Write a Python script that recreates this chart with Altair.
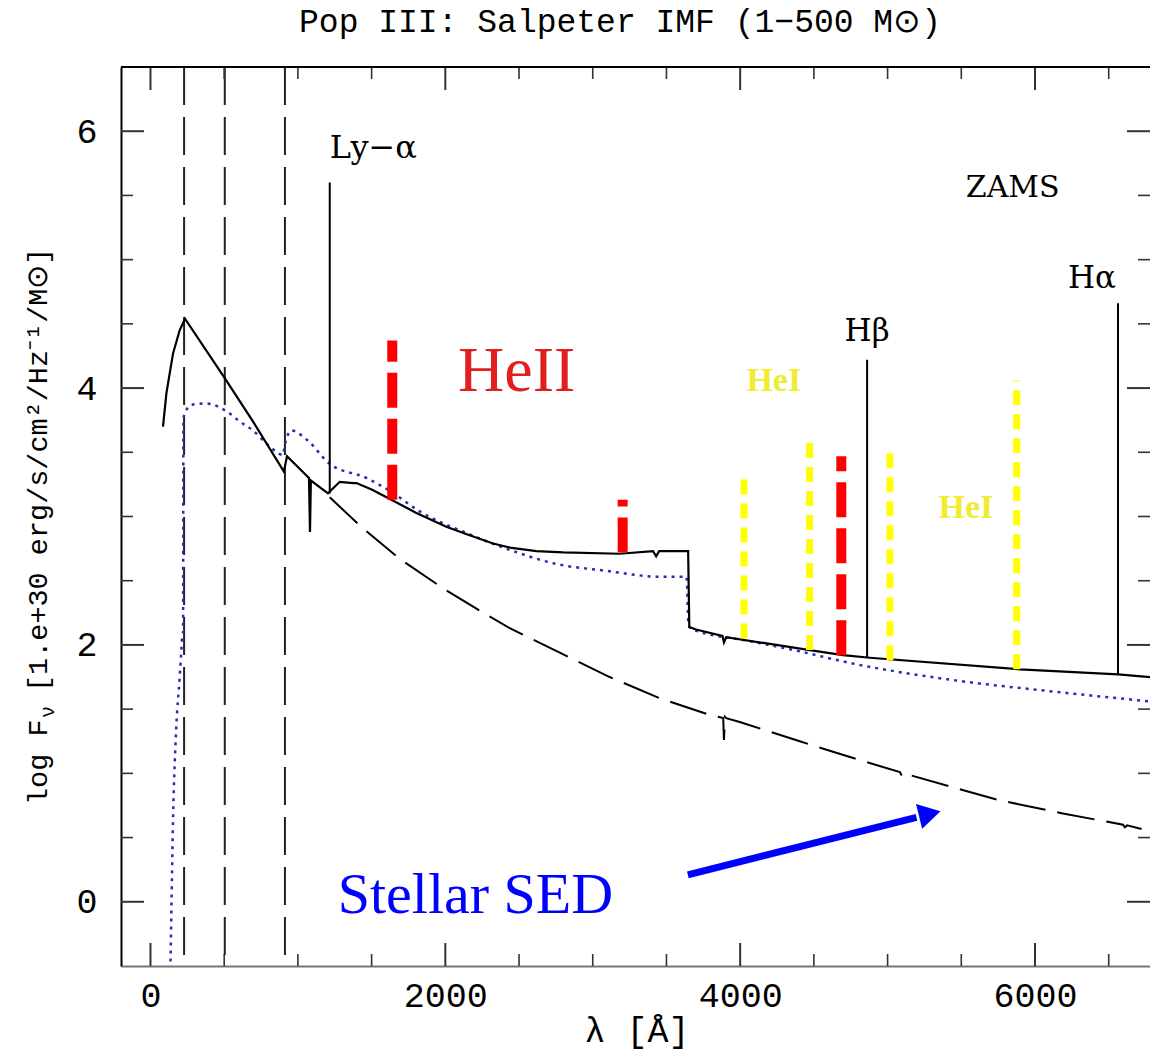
import altair as alt
import pandas as pd

# ---------------- data ----------------
# total (stellar + nebular) ZAMS spectrum, solid black
tot_x = [85, 108, 153, 198, 234, 497, 695, 905, 926, 1075, 1082, 1088, 1204, 1284, 1374,
         1397, 1500, 1634, 1800, 2007, 2150, 2324, 2450, 2618, 2800, 3183, 3409, 3430, 3450,
         3647, 3655, 3700, 3880, 3890, 3905, 4472, 4698, 4879, 5897, 6564, 6780]
tot_y = [3.70, 3.96, 4.27, 4.45, 4.54, 4.09, 3.74, 3.35, 3.47, 3.30, 2.88, 3.28, 3.18, 3.27, 3.26,
         3.26, 3.21, 3.13, 3.03, 2.92, 2.86, 2.79, 2.755, 2.73, 2.72, 2.71, 2.73, 2.69, 2.73,
         2.73, 2.14, 2.12, 2.07, 2.02, 2.06, 1.96, 1.92, 1.90, 1.81, 1.77, 1.75]

# pure stellar SED, long-dashed black
st_x = [1216, 1419, 1691, 1985, 2200, 2437, 2776, 3115, 3455, 3794, 3885, 3890, 3897, 3905, 3997,
        4404, 4750, 5083, 5098, 5110, 5430, 5761, 6180, 6597, 6610, 6625, 6780]
st_y = [3.15, 2.93, 2.67, 2.44, 2.29, 2.13, 1.94, 1.75, 1.585, 1.455, 1.43, 1.26, 1.44, 1.43, 1.40,
        1.25, 1.125, 1.01, 0.98, 1.00, 0.895, 0.79, 0.69, 0.60, 0.58, 0.595, 0.55]

# blue dotted curve
neb_x = [128, 135, 153, 175, 198, 210, 216, 221, 223, 240, 277, 379, 515, 605, 695, 786, 900, 910,
         956, 1058, 1216, 1465, 1623, 1826, 2166, 2437, 2754, 3070, 3477, 3636, 3650, 3680, 4065,
         4404, 4744, 5421, 6100, 6780]
neb_y = [-0.9, -0.51, 0.64, 1.36, 1.75, 1.97, 2.08, 2.10, 3.76, 3.82, 3.87, 3.88, 3.82, 3.74, 3.67,
         3.57, 3.48, 3.55, 3.67, 3.60, 3.41, 3.30, 3.20, 3.04, 2.86, 2.74, 2.63, 2.58, 2.53, 2.53,
         2.15, 2.12, 2.03, 1.95, 1.86, 1.73, 1.64, 1.56]

# ionisation edges (dashed verticals)
edge_x = [228, 504, 912]

# hydrogen emission lines
h_x = [1216, 4861, 6563]
h_lo = [3.18, 1.90, 1.77]
h_hi = [5.60, 4.22, 4.66]

# HeII lines (red)
heii_x = [1640, 3203, 4686]
heii_lo = [3.13, 2.72, 1.92]
heii_hi = [4.37, 3.13, 3.47]

# HeI lines (yellow)
hei_x = [4026, 4471, 5016, 5876]
hei_lo = [2.05, 1.96, 1.88, 1.81]
hei_hi = [3.32, 3.64, 3.50, 4.06]

# arrow pointing at the stellar SED
arrow_x = [3645, 5196]
arrow_y = [0.21, 0.658]
arrow_tip = [5262, 0.678]

# axis ticks
x_major = [0, 2000, 4000, 6000]
x_minor = [500, 1000, 1500, 2500, 3000, 3500, 4500, 5000, 5500, 6500]
y_major = [0, 2, 4, 6]
y_minor = [0.5, 1, 1.5, 2.5, 3, 3.5, 4.5, 5, 5.5]

# ---------------- layout ----------------
W, H = 1029, 899
MONO = "Liberation Mono"
SERIF = "Liberation Serif"
DSERIF = "DejaVu Serif"

xs = alt.Scale(domain=[-200, 6780], nice=False, zero=False)
ys = alt.Scale(domain=[-0.5, 6.5], nice=False, zero=False)
xa = alt.Axis(values=x_major, format="d", ticks=False, grid=False, domain=True,
              domainColor="#777777", domainWidth=2, labelFont=MONO, labelFontSize=35,
              labelColor="black", labelPadding=12, labelFlush=False)
ya = alt.Axis(values=y_major, format="d", ticks=False, grid=False, domain=True,
              domainColor="black", domainWidth=2, labelFont=MONO, labelFontSize=35,
              labelColor="black", labelPadding=24)


def X(f):
    return alt.X(f, type="quantitative", scale=xs, axis=xa, title=None)


def Y(f):
    return alt.Y(f, type="quantitative", scale=ys, axis=ya, title=None)


def curve(xv, yv):
    return pd.DataFrame({"x": xv, "y": yv, "i": list(range(len(xv)))})


layers = []

# edges
layers.append(
    alt.Chart(pd.DataFrame({"x": edge_x})).mark_rule(color="#222222", strokeWidth=2, strokeDash=[38, 12])
    .encode(x=X("x"), y=alt.value(0), y2=alt.value(H))
)

# blue dotted
layers.append(
    alt.Chart(curve(neb_x, neb_y)).mark_line(color="#2530b0", strokeWidth=2.5, strokeDash=[3, 5],
                                             clip=True, interpolate="monotone")
    .encode(x=X("x"), y=Y("y"), order="i:Q")
)
# stellar dashed
layers.append(
    alt.Chart(curve(st_x, st_y)).mark_line(color="black", strokeWidth=2, strokeDash=[38, 12])
    .encode(x=X("x"), y=Y("y"), order="i:Q")
)
# total solid
layers.append(
    alt.Chart(curve(tot_x, tot_y)).mark_line(color="black", strokeWidth=2.2)
    .encode(x=X("x"), y=Y("y"), order="i:Q")
)
# H lines
layers.append(
    alt.Chart(pd.DataFrame({"x": h_x, "lo": h_lo, "hi": h_hi})).mark_rule(color="black", strokeWidth=2)
    .encode(x=X("x"), y=Y("lo"), y2="hi:Q")
)
# HeII
layers.append(
    alt.Chart(pd.DataFrame({"x": heii_x, "lo": heii_lo, "hi": heii_hi}))
    .mark_rule(color="#ff0000", strokeWidth=10, strokeDash=[35, 11])
    .encode(x=X("x"), y=Y("lo"), y2="hi:Q")
)
# HeI
layers.append(
    alt.Chart(pd.DataFrame({"x": hei_x, "lo": hei_lo, "hi": hei_hi}))
    .mark_rule(color="#ffff00", strokeWidth=7, strokeDash=[15, 9])
    .encode(x=X("x"), y=Y("lo"), y2="hi:Q")
)

# inward ticks
for vals, ln, sw in [(x_major, 23, 2), (x_minor, 12, 1.6)]:
    d = pd.DataFrame({"v": vals})
    layers.append(alt.Chart(d).mark_rule(color="#333333", strokeWidth=sw)
                  .encode(x=X("v"), y=alt.value(H), y2=alt.value(H - ln)))
    layers.append(alt.Chart(d).mark_rule(color="#333333", strokeWidth=sw)
                  .encode(x=X("v"), y=alt.value(0), y2=alt.value(ln)))
for vals, ln, sw in [(y_major, 23, 2), (y_minor, 12, 1.6)]:
    d = pd.DataFrame({"v": vals})
    layers.append(alt.Chart(d).mark_rule(color="#333333", strokeWidth=sw)
                  .encode(y=Y("v"), x=alt.value(0), x2=alt.value(ln)))
    layers.append(alt.Chart(d).mark_rule(color="#333333", strokeWidth=sw)
                  .encode(y=Y("v"), x=alt.value(W), x2=alt.value(W - ln)))

# top frame
layers.append(alt.Chart(pd.DataFrame({"a": [0]})).mark_rule(color="black", strokeWidth=2)
              .encode(x=alt.value(0), x2=alt.value(W), y=alt.value(0)))

# arrow
layers.append(
    alt.Chart(pd.DataFrame({"x": [arrow_x[0]], "y": [arrow_y[0]], "x2": [arrow_x[1]], "y2": [arrow_y[1]]}))
    .mark_rule(color="#0000ff", strokeWidth=7)
    .encode(x=X("x"), y=Y("y"), x2="x2:Q", y2="y2:Q")
)
layers.append(
    alt.Chart(pd.DataFrame({"x": [arrow_tip[0]], "y": [arrow_tip[1]]}))
    .mark_point(shape="triangle", filled=True, size=650, angle=76, color="#0000ff", opacity=1)
    .encode(x=X("x"), y=Y("y"))
)


def label(t, x, y, color, size, font, align="center", weight="normal", dx=0):
    d = pd.DataFrame({"x": [x], "y": [y], "t": [t]})
    return (alt.Chart(d).mark_text(color=color, fontSize=size, font=font, align=align,
                                   baseline="alphabetic", fontWeight=weight, dx=dx)
            .encode(x=X("x"), y=Y("y"), text="t:N"))


def ptext(t, px, py, size, font, color="black", align="center", angle=0):
    d = pd.DataFrame({"t": [t]})
    kw = dict(color=color, fontSize=size, font=font, align=align, baseline="alphabetic")
    if angle:
        kw["angle"] = angle
    return alt.Chart(d).mark_text(**kw).encode(x=alt.value(px), y=alt.value(py), text="t:N")


layers += [
    label("Ly\u2212\u03b1", 1216, 5.79, "black", 32, DSERIF, align="left"),
    label("H\u03b2", 4861, 4.37, "black", 31, DSERIF),
    label("H\u03b1", 6563, 4.78, "black", 31, DSERIF, align="right", dx=-2),
    label("ZAMS", 5849, 5.49, "black", 30, DSERIF),
    label("HeII", 2484, 3.98, "#e02020", 64, SERIF),
    label("HeI", 4228, 3.98, "#f0ec30", 34, SERIF, weight="bold"),
    label("HeI", 5531, 2.99, "#f0ec30", 34, SERIF, weight="bold"),
    label("Stellar SED", 1270, -0.09, "#0000ff", 58, SERIF, align="left"),
    ptext("Pop III: Salpeter IMF (1\u2212500 M\u2299)", 499, -35, 33, MONO),
    ptext("\u03bb [\u00c5]", 516, 975, 35, MONO),
    ptext("log F", -74, 738, 28.5, MONO, align="left", angle=270),
    ptext("\u03bd", -67, 651, 20, MONO, align="left", angle=270),
    ptext("[1.e+30 erg/s/cm\u00b2/Hz\u207b\u00b9/M\u2299]", -74, 625, 28.5, MONO, align="left", angle=270),
]

chart = (
    alt.layer(*layers)
    .properties(width=W, height=H,
                padding={"left": 121, "top": 67, "right": 0, "bottom": 91},
                autosize=alt.AutoSizeParams(type="none"),
                background="white")
    .configure_view(stroke=None)
)

chart.save("out.html", embed_options={"renderer": "svg", "actions": False})
